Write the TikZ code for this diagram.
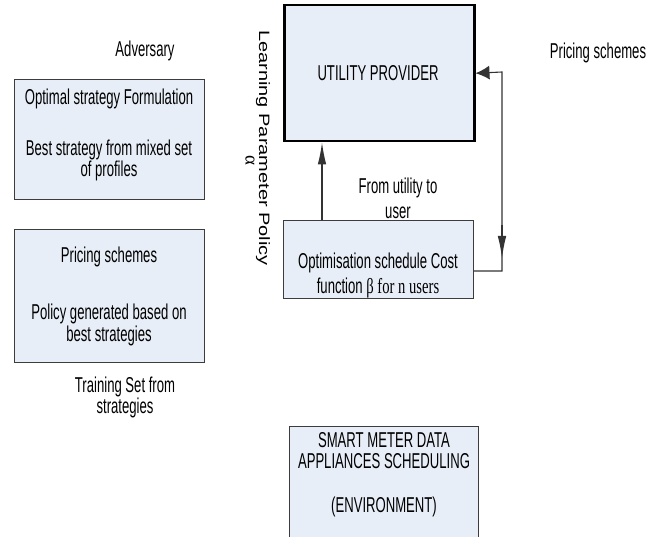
\documentclass[tikz,border=0pt]{standalone}
\usepackage{fontspec}
\setmainfont[FakeStretch=0.61]{Liberation Sans}
\newfontfamily\plainsans{Liberation Sans}
\newfontfamily\serifn[FakeStretch=0.68]{Liberation Serif}
\newfontfamily\serifp{Liberation Serif}
\usetikzlibrary{arrows.meta}
\definecolor{boxfill}{RGB}{232,238,247}
\definecolor{lineg}{RGB}{60,60,60}
\begin{document}
\begin{tikzpicture}[x=1pt,y=-1pt,
  box/.style={draw=lineg, line width=0.9pt, fill=boxfill, inner sep=0pt},
  txt/.style={inner sep=0pt, align=center, font=\fontsize{21.5}{21}\selectfont},
  conn/.style={draw=black!80, line width=1.1pt},
  tipV/.style={-{Latex[length=22pt,width=8.5pt]}},
  tipH/.style={-{Latex[length=14pt,width=14pt]}}
]
\clip (0,0) rectangle (666,537);
\fill[white] (0,0) rectangle (666,537);

% boxes
\node[box, anchor=north west, minimum width=190pt, minimum height=120pt] (strat) at (14,79) {};
\node[box, anchor=north west, minimum width=190pt, minimum height=133pt] (price) at (14,229) {};
\node[box, draw=black, line width=2.5pt, anchor=north west, minimum width=190pt, minimum height=136pt] (util) at (283,4) {};
\node[box, anchor=north west, minimum width=190pt, minimum height=78pt] (opti) at (283,220) {};
\node[box, anchor=north west, minimum width=189pt, minimum height=130pt] (smart) at (289,426) {};

% texts
\node[txt, anchor=north] (adv) at (145,41) {Adversary};
\node[txt, anchor=north] (strattxt) at (109,89) {Optimal strategy Formulation\\[30pt]Best strategy from mixed set\\of profiles};
\node[txt, anchor=north] (pricetxt) at (109,247) {Pricing schemes\\[36pt]Policy generated based on\\[1pt]best strategies};
\node[txt, anchor=north] (train) at (125,377) {Training Set from\\strategies};
\node[txt, anchor=north] (utiltxt) at (378,65) {UTILITY PROVIDER};
\node[txt, anchor=north] (from) at (398,178) {From utility to\\[4pt]user};
\node[txt, anchor=north] (optitxt) at (378,253) {Optimisation schedule Cost\\[4pt]function {\serifn β for n users}};
\node[txt, anchor=north] (smarttxt) at (384,432) {SMART METER DATA\\APPLIANCES SCHEDULING\\[23pt](ENVIRONMENT)};
\node[txt, anchor=north] (pricer) at (598,43) {Pricing schemes};
\node[inner sep=0pt, rotate=-90, anchor=base west, font=\plainsans\fontsize{20}{24}\selectfont] (lpp) at (259,30) {\scalebox{1}[0.75]{Learning Parameter Policy}};
\node[inner sep=0pt, rotate=-90, font=\serifp\fontsize{19}{20}\selectfont] (alpha) at (250,160) {α};

% connectors
\coordinate (rt) at (502,271);
\coordinate (rtop) at (502,72);
\coordinate (dn1) at (502,225);
\coordinate (dn2) at (502,258);
\draw[conn, tipV] ([xshift=39pt]opti.north west) -- ([xshift=39pt]util.south west);
\draw[conn, tipH] ([yshift=-51pt]opti.north east) -- (rt) -- (rtop) -- (util.east);
\draw[conn, tipV] (dn1) -- (dn2);
\end{tikzpicture}
\end{document}
